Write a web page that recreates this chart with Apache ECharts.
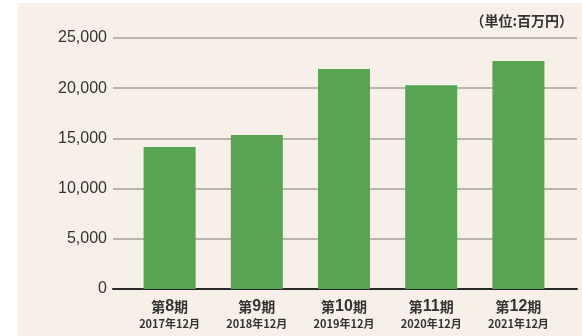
<!DOCTYPE html>
<html>
<head>
<meta charset="utf-8">
<script src="https://cdn.jsdelivr.net/npm/echarts@6/dist/echarts.min.js"></script>
<style>
  html, body { margin: 0; padding: 0; background: #ffffff; }
  #panel { position: absolute; left: 18px; top: 3px; right: 0; bottom: 0; background: #f7f0e9; }
  #chart { position: absolute; left: 0; top: 0; width: 582px; height: 336px; }
</style>
</head>
<body>
<div id="panel"></div>
<div id="chart"></div>
<script>
// Fiscal periods and their year-end dates
const periods = ['第8期', '第9期', '第10期', '第11期', '第12期'];
const periodDates = ['2017年12月', '2018年12月', '2019年12月', '2020年12月', '2021年12月'];
// Values in millions of yen
const values = [14150, 15350, 21900, 20300, 22700];
const yTicks = [0, 5000, 10000, 15000, 20000, 25000];
const unitLabel = '（単位:百万円）';

const latin = '"Liberation Sans", Arial, "Noto Sans CJK JP", sans-serif';
const cjk = '"Noto Sans CJK JP", sans-serif';

const categories = periods.map((p, i) => p + '\n' + periodDates[i]);

const chart = echarts.init(document.getElementById('chart'), null, { renderer: 'canvas' });

// Split the period name into kanji and digits for mixed styling
function periodLabel(val) {
  const [p, d] = val.split('\n');
  const m = p.match(/^(第)(\d+)(期)$/);
  return '{k|' + m[1] + '}{n|' + m[2] + '}{k|' + m[3] + '}\n{d|' + d + '}';
}

chart.setOption({
  backgroundColor: 'transparent',
  animation: false,
  title: {
    text: unitLabel,
    right: 4,
    top: 9,
    textStyle: { fontFamily: cjk, fontSize: 14, fontWeight: 'bold', color: '#333' }
  },
  grid: [
    { left: 113, right: 5, top: 38, bottom: 47, containLabel: false },
    { left: 126, right: 20, top: 38, bottom: 47, containLabel: false }
  ],
  xAxis: [
    {
      gridIndex: 0, type: 'category', data: categories,
      axisLine: { show: true, lineStyle: { color: '#2b2b2b', width: 2 } },
      axisTick: { show: false }, axisLabel: { show: false }, splitLine: { show: false }
    },
    {
      gridIndex: 1, type: 'category', data: categories,
      axisLine: { show: false }, axisTick: { show: false },
      axisLabel: {
        margin: 9,
        interval: 0,
        formatter: periodLabel,
        rich: {
          k: { fontFamily: cjk, fontSize: 14, fontWeight: 'bold', color: '#333', lineHeight: 18 },
          n: { fontFamily: latin, fontSize: 16, fontWeight: 'bold', color: '#333', lineHeight: 18 },
          d: { fontFamily: cjk, fontSize: 11, fontWeight: 'bold', color: '#333', lineHeight: 16 }
        }
      }
    }
  ],
  yAxis: [
    {
      gridIndex: 0, type: 'value', min: yTicks[0], max: yTicks[yTicks.length - 1], interval: 5000,
      axisLine: { show: false }, axisTick: { show: false },
      axisLabel: {
        margin: 6, fontFamily: latin, fontSize: 16, color: '#333',
        formatter: v => v.toLocaleString('en-US')
      },
      splitLine: { show: true, lineStyle: { color: '#a3a09d', width: 1.5 } }
    },
    {
      gridIndex: 1, type: 'value', min: yTicks[0], max: yTicks[yTicks.length - 1], interval: 5000,
      show: false
    }
  ],
  series: [
    {
      type: 'bar',
      xAxisIndex: 1, yAxisIndex: 1,
      data: values,
      barWidth: 52,
      itemStyle: { color: '#58a453' },
      z: 3
    }
  ]
});
</script>
</body>
</html>
